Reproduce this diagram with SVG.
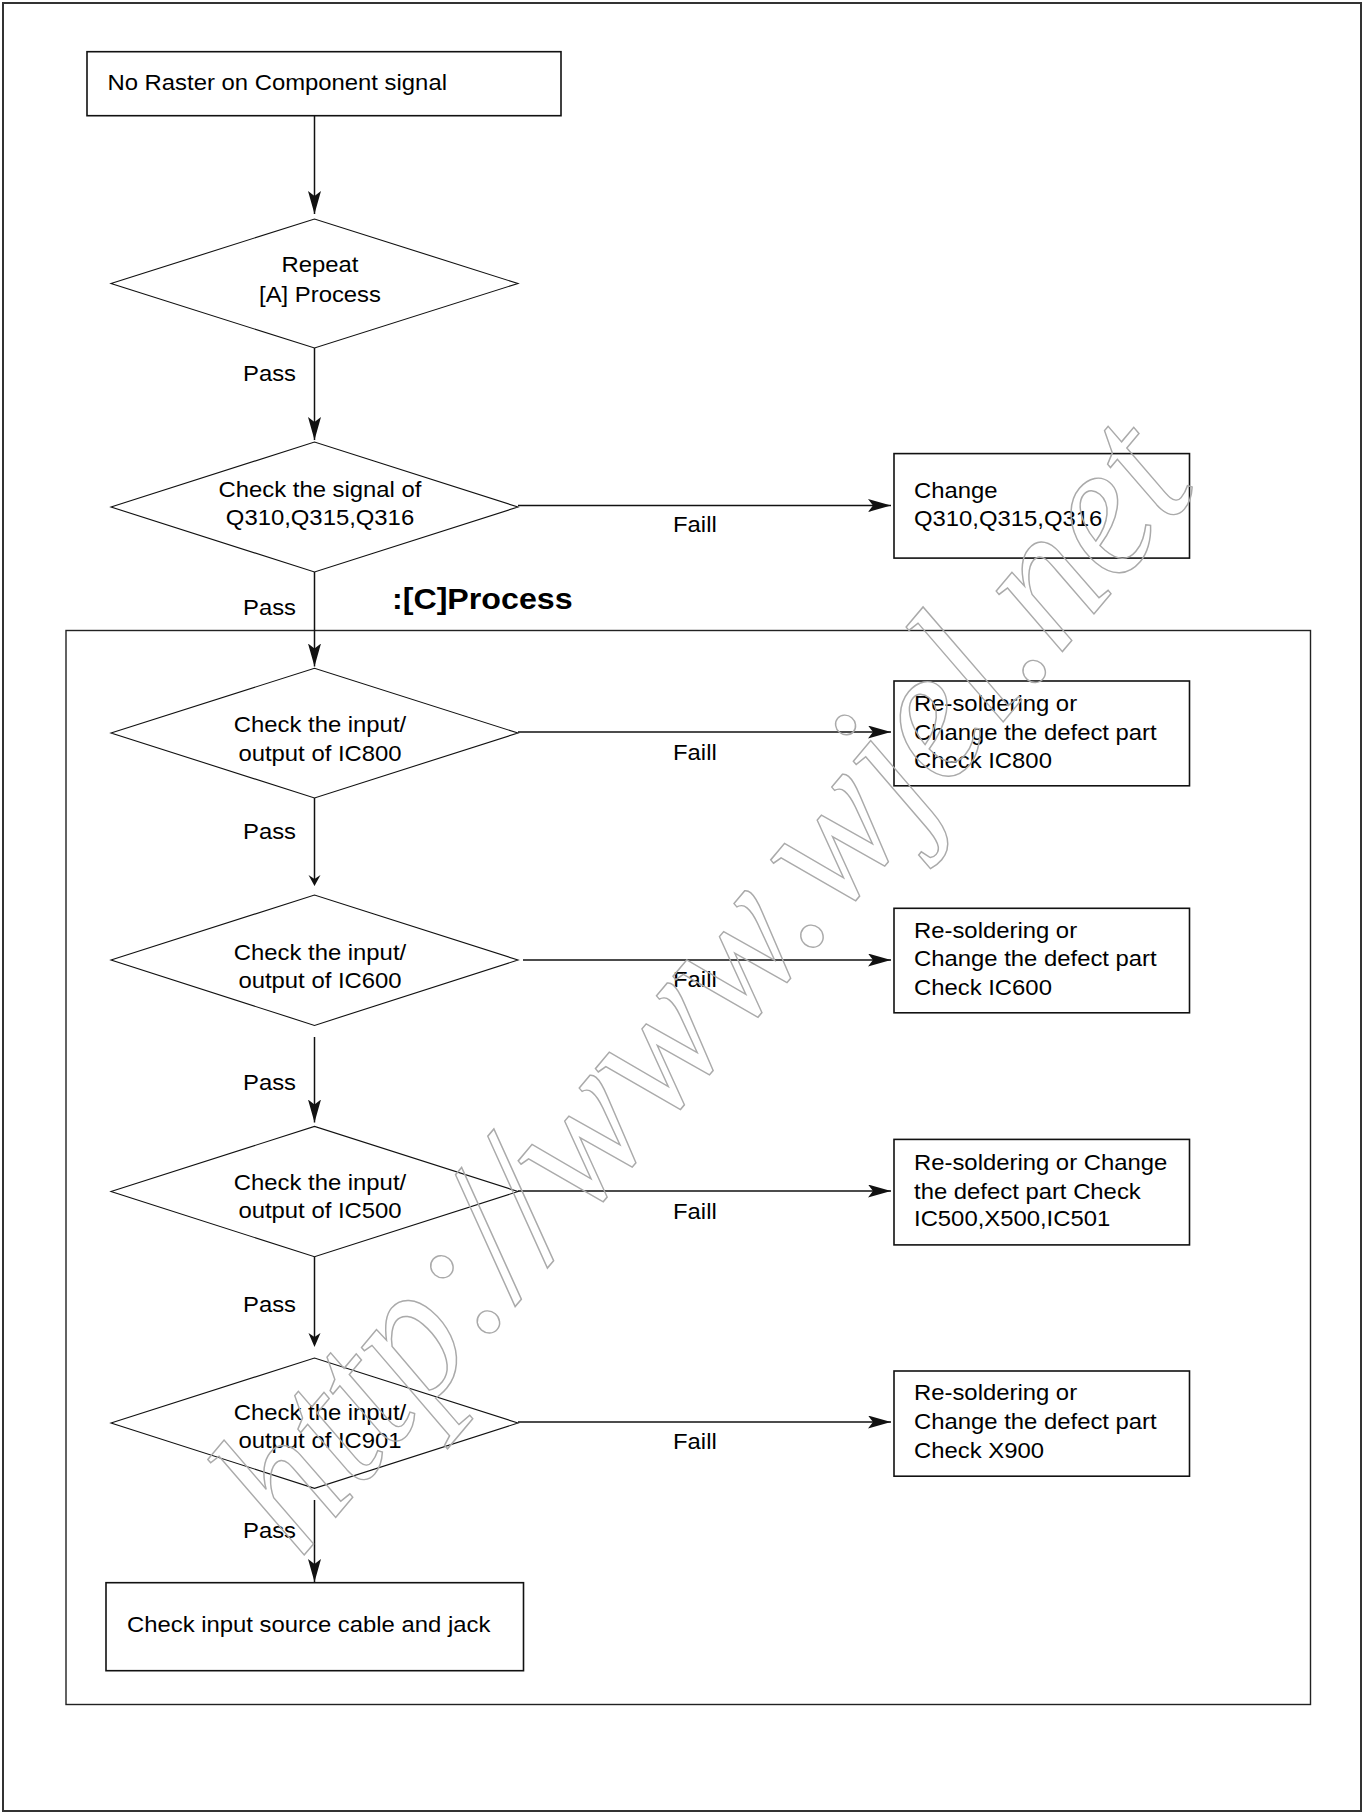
<svg xmlns="http://www.w3.org/2000/svg" width="1364" height="1813" viewBox="0 0 1364 1813">
<style>
  text { font-family: "Liberation Sans", Arial, sans-serif; font-size: 21.5px; fill: #000; }
  .s { transform-box: fill-box; transform-origin: left center; transform: scaleX(1.11); }
  .c { text-anchor: middle; transform-box: fill-box; transform-origin: center; transform: scaleX(1.11); }
  .b { font-weight: bold; font-size: 29px; }
  .box { fill: #fff; stroke: #111; stroke-width: 1.6; }
  .dia { fill: #fff; stroke: #111; stroke-width: 1.1; }
  .ln { fill: none; stroke: #111; stroke-width: 1.5; }
  .frame { fill: none; stroke: #333; stroke-width: 2; }
  .cont { fill: none; stroke: #222; stroke-width: 1.4; }
  .wm { font-family: "Liberation Serif", "DejaVu Serif", serif; font-style: italic; font-size: 195px; fill: none; stroke: #aaa; stroke-width: 1.5; }
</style>
<defs>
  <marker id="ah" markerUnits="userSpaceOnUse" markerWidth="24" markerHeight="14" refX="23" refY="6.5" orient="auto">
    <path d="M0,0 L23,6.5 L0,13 L5,6.5 Z" fill="#111"/>
  </marker>
</defs>
<rect width="1364" height="1813" fill="#fff"/>
<rect class="frame" x="3" y="3" width="1358" height="1808"/>

<g id="c-process">
  <rect class="cont" x="66" y="630.5" width="1244.5" height="1074"/>
  <text class="s b" x="392" y="609.5">:[C]Process</text>
</g>

<g id="connectors">
  <line class="ln" x1="314.5" y1="115.6" x2="314.5" y2="214" marker-end="url(#ah)"/>
  <line class="ln" x1="314.5" y1="348" x2="314.5" y2="440" marker-end="url(#ah)"/>
  <line class="ln" x1="314.5" y1="572" x2="314.5" y2="666.5" marker-end="url(#ah)"/>
  <line class="ln" x1="314.5" y1="798" x2="314.5" y2="880"/>
  <polygon points="308.5,875 314.5,879 320.5,875 314.5,886" fill="#111"/>
  <line class="ln" x1="314.5" y1="1037" x2="314.5" y2="1122.5" marker-end="url(#ah)"/>
  <line class="ln" x1="314.5" y1="1257" x2="314.5" y2="1340"/>
  <polygon points="308.5,1333 314.5,1337 320.5,1333 314.5,1347" fill="#111"/>
  <line class="ln" x1="314.5" y1="1500" x2="314.5" y2="1582" marker-end="url(#ah)"/>

  <line class="ln" x1="518" y1="505.5" x2="891" y2="505.5" marker-end="url(#ah)"/>
  <line class="ln" x1="518" y1="732" x2="891" y2="732" marker-end="url(#ah)"/>
  <line class="ln" x1="523" y1="960" x2="891" y2="960" marker-end="url(#ah)"/>
  <line class="ln" x1="518" y1="1191" x2="891" y2="1191" marker-end="url(#ah)"/>
  <line class="ln" x1="518" y1="1422" x2="891" y2="1422" marker-end="url(#ah)"/>

  <text class="s" x="243" y="381">Pass</text>
  <text class="s" x="243" y="615.5">Pass</text>
  <text class="s" x="243" y="839.5">Pass</text>
  <text class="s" x="243" y="1090">Pass</text>
  <text class="s" x="243" y="1312">Pass</text>
  <text class="s" x="243" y="1538">Pass</text>

  <text class="s" x="673" y="532">Faill</text>
  <text class="s" x="673" y="760">Faill</text>
  <text class="s" x="673" y="987.5">Faill</text>
  <text class="s" x="673" y="1219">Faill</text>
  <text class="s" x="673" y="1449">Faill</text>
</g>

<g id="start">
  <rect class="box" x="87" y="51.7" width="474" height="64"/>
  <text class="s" x="107.5" y="90">No Raster on Component signal</text>
</g>

<g id="d1">
  <polygon class="dia" points="111,283.5 314.5,219 518,283.5 314.5,348"/>
  <text class="c" x="320" y="272.5">Repeat</text>
  <text class="c" x="320" y="302">[A] Process</text>
</g>

<g id="d2">
  <polygon class="dia" points="111,507 314.5,442 518,507 314.5,572"/>
  <text class="c" x="320" y="497">Check the signal of</text>
  <text class="c" x="320" y="525.5">Q310,Q315,Q316</text>
</g>

<g id="d3">
  <polygon class="dia" points="111,733 314.5,668.3 518,733 314.5,798"/>
  <text class="c" x="320" y="732.5">Check the input/</text>
  <text class="c" x="320" y="761">output of IC800</text>
</g>

<g id="d4">
  <polygon class="dia" points="111,960 314.5,895 518,960 314.5,1025.4"/>
  <text class="c" x="320" y="960">Check the input/</text>
  <text class="c" x="320" y="988">output of IC600</text>
</g>

<g id="d5">
  <polygon class="dia" points="111,1191.5 314.5,1126.4 518,1191.5 314.5,1256.7"/>
  <text class="c" x="320" y="1190">Check the input/</text>
  <text class="c" x="320" y="1218.5">output of IC500</text>
</g>

<g id="d6">
  <polygon class="dia" points="111,1423 314.5,1358 518,1423 314.5,1488.3"/>
  <text class="c" x="320" y="1420">Check the input/</text>
  <text class="c" x="320" y="1448">output of IC901</text>
</g>

<g id="b-change">
  <rect class="box" x="894" y="453.6" width="295.5" height="104.5"/>
  <text class="s" x="914" y="497.6">Change</text>
  <text class="s" x="914" y="526">Q310,Q315,Q316</text>
</g>

<g id="b-ic800">
  <rect class="box" x="894" y="681" width="295.5" height="104.8"/>
  <text class="s" x="914" y="710.7">Re-soldering or</text>
  <text class="s" x="914" y="739.6">Change the defect part</text>
  <text class="s" x="914" y="768">Check IC800</text>
</g>

<g id="b-ic600">
  <rect class="box" x="894" y="908.3" width="295.5" height="104.5"/>
  <text class="s" x="914" y="937.7">Re-soldering or</text>
  <text class="s" x="914" y="966.4">Change the defect part</text>
  <text class="s" x="914" y="995">Check IC600</text>
</g>

<g id="b-ic500">
  <rect class="box" x="894" y="1139.4" width="295.5" height="105.5"/>
  <text class="s" x="914" y="1170">Re-soldering or Change</text>
  <text class="s" x="914" y="1198.7">the defect part Check</text>
  <text class="s" x="914" y="1226.3">IC500,X500,IC501</text>
</g>

<g id="b-x900">
  <rect class="box" x="894" y="1371" width="295.5" height="105.2"/>
  <text class="s" x="914" y="1400.4">Re-soldering or</text>
  <text class="s" x="914" y="1429">Change the defect part</text>
  <text class="s" x="914" y="1457.8">Check X900</text>
</g>

<g id="end">
  <rect class="box" x="106" y="1582.7" width="417.5" height="88"/>
  <text class="s" x="127" y="1632">Check input source cable and jack</text>
</g>

<g id="watermark">
  <text class="wm" transform="translate(300,1560) rotate(-50)" x="0" y="0" textLength="1400" lengthAdjust="spacingAndGlyphs">http://www.wjel.net</text>
</g>
</svg>
